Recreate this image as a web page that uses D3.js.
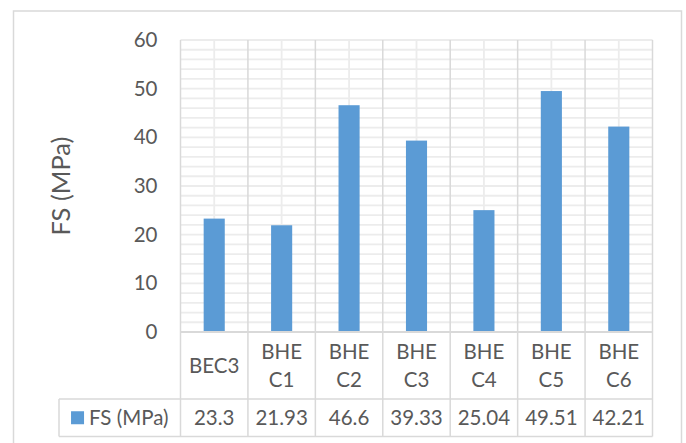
<!DOCTYPE html>
<html>
<head>
<meta charset="utf-8">
<script src="https://cdn.jsdelivr.net/npm/d3@7"></script>
<style>
  html, body { margin: 0; padding: 0; background: #fff; }
  svg { display: block; }
  text { font-family: Lato, "Open Sans", sans-serif; fill: #595959; }
</style>
</head>
<body>
<svg id="chart" width="686" height="443"></svg>
<script>
// Flexural strength per mix
const categories = ["BEC3", "BHE C1", "BHE C2", "BHE C3", "BHE C4", "BHE C5", "BHE C6"];
const fsValues = [23.3, 21.93, 46.6, 39.33, 25.04, 49.51, 42.21];
const valueLabels = ["23.3", "21.93", "46.6", "39.33", "25.04", "49.51", "42.21"];
const yTicks = [0, 10, 20, 30, 40, 50, 60];
const seriesName = "FS (MPa)";
const axisTitle = "FS (MPa)";

const svg = d3.select("#chart");
const plot = { left: 180.5, right: 652.5, top: 40, bottom: 332 };
const catRowBottom = 399;
const tableBottom = 436.5;
const tableLeft = 59;
const labelSize = 20.5;

const x = d3.scaleBand().domain(categories).range([plot.left, plot.right]).paddingInner(0).paddingOuter(0);
const y = d3.scaleLinear().domain([0, 60]).range([plot.bottom, plot.top]);

// Chart frame
svg.append("rect")
  .attr("x", 13.5).attr("y", 11).attr("width", 668).attr("height", 460)
  .attr("fill", "#fff").attr("stroke", "#d9d9d9").attr("stroke-width", 1.5);

// Minor horizontal gridlines every 2 units
const minor = d3.range(2, 61, 2);
svg.append("g").selectAll("line").data(minor).join("line")
  .attr("x1", plot.left).attr("x2", plot.right)
  .attr("y1", d => y(d)).attr("y2", d => y(d))
  .attr("stroke", "#ececec").attr("stroke-width", 1.8);

// Minor vertical gridlines through category centres
svg.append("g").selectAll("line").data(categories).join("line")
  .attr("x1", d => x(d) + x.bandwidth() / 2).attr("x2", d => x(d) + x.bandwidth() / 2)
  .attr("y1", plot.top).attr("y2", plot.bottom)
  .attr("stroke", "#ececec").attr("stroke-width", 1.8);

// Category separators, running down through the data table
const bounds = categories.map(d => x(d)).concat([plot.right]);
svg.append("g").selectAll("line").data(bounds).join("line")
  .attr("x1", d => d).attr("x2", d => d)
  .attr("y1", plot.top).attr("y2", tableBottom)
  .attr("stroke", "#d9d9d9").attr("stroke-width", 1.5);

// Bars
const barW = x.bandwidth() * 0.313;
svg.append("g").selectAll("rect").data(fsValues).join("rect")
  .attr("x", (d, i) => x(categories[i]) + (x.bandwidth() - barW) / 2)
  .attr("y", d => y(d))
  .attr("width", barW)
  .attr("height", d => y(0) - y(d))
  .attr("fill", "#5b9bd5");

// Value axis line at zero and table rules
svg.append("line").attr("x1", plot.left).attr("x2", plot.right)
  .attr("y1", y(0)).attr("y2", y(0)).attr("stroke", "#d9d9d9").attr("stroke-width", 2);
[catRowBottom, tableBottom].forEach(yy => {
  svg.append("line").attr("x1", tableLeft).attr("x2", plot.right)
    .attr("y1", yy).attr("y2", yy).attr("stroke", "#d9d9d9").attr("stroke-width", 1.5);
});
svg.append("line").attr("x1", tableLeft).attr("x2", tableLeft)
  .attr("y1", catRowBottom).attr("y2", tableBottom).attr("stroke", "#d9d9d9").attr("stroke-width", 1.5);

// Y axis labels
const yAxis = d3.axisLeft(y).tickValues(yTicks).tickSize(0).tickPadding(23);
const gy = svg.append("g").attr("transform", `translate(${plot.left},0)`).call(yAxis);
gy.select(".domain").remove();
gy.selectAll("text").attr("font-size", labelSize).attr("font-family", "Lato, sans-serif").attr("fill", "#595959");

// Y axis title
svg.append("text")
  .attr("transform", `translate(70,${(plot.top + plot.bottom) / 2}) rotate(-90)`)
  .attr("text-anchor", "middle").attr("font-size", 25.5)
  .text(axisTitle);

// Category labels (wrapped on spaces)
const catMid = (plot.bottom + catRowBottom) / 2;
const lineH = 28;
categories.forEach(c => {
  const parts = c.split(" ");
  const t = svg.append("text").attr("text-anchor", "middle").attr("font-size", labelSize);
  const cx = x(c) + x.bandwidth() / 2;
  parts.forEach((p, k) => {
    const dy = (k - (parts.length - 1) / 2) * lineH;
    t.append("tspan").attr("x", cx).attr("y", catMid + dy).attr("dy", "0.36em").text(p);
  });
});

// Data table values
const rowMid = (catRowBottom + tableBottom) / 2;
svg.append("g").selectAll("text").data(valueLabels).join("text")
  .attr("x", (d, i) => x(categories[i]) + x.bandwidth() / 2)
  .attr("y", rowMid).attr("dy", "0.36em")
  .attr("text-anchor", "middle").attr("font-size", labelSize)
  .text(d => d);

// Legend key in the table
const keyG = svg.append("g");
const keyText = keyG.append("text").attr("font-size", labelSize).attr("y", rowMid).attr("dy", "0.36em").text(seriesName);
const tw = keyText.node().getComputedTextLength();
const keySize = 13, gap = 5;
const total = keySize + gap + tw;
const startX = tableLeft + (plot.left - tableLeft - total) / 2;
keyG.append("rect").attr("x", startX).attr("y", rowMid - keySize / 2).attr("width", keySize).attr("height", keySize).attr("fill", "#5b9bd5");
keyText.attr("x", startX + keySize + gap);
</script>
</body>
</html>
